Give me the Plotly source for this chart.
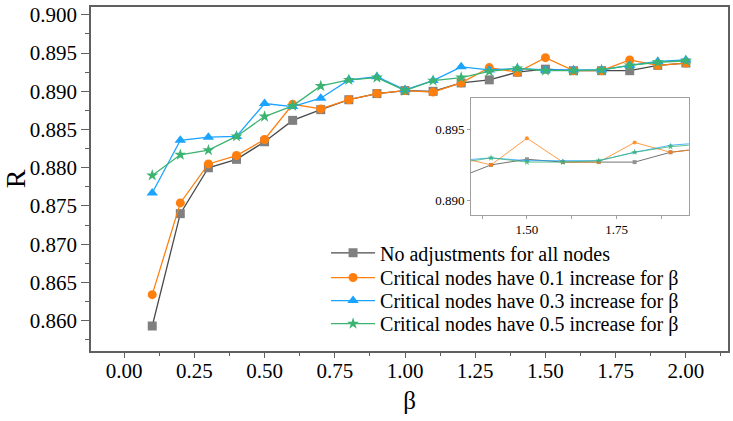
import plotly.graph_objects as go

beta = [0.1, 0.2, 0.3, 0.4, 0.5, 0.6, 0.7, 0.8, 0.9, 1.0,
        1.1, 1.2, 1.3, 1.4, 1.5, 1.6, 1.7, 1.8, 1.9, 2.0]
r_none = [0.8593, 0.8740, 0.8800, 0.8811, 0.8834, 0.8862, 0.8876, 0.8889, 0.8897, 0.8901,
          0.8900, 0.8911, 0.8915, 0.8925, 0.8929, 0.8927, 0.8927, 0.8927, 0.8934, 0.8937]
r_01 = [0.8634, 0.8754, 0.8805, 0.8816, 0.8837, 0.8883, 0.8877, 0.8889, 0.8897, 0.8901,
        0.8899, 0.8911, 0.8931, 0.8925, 0.8944, 0.8927, 0.8927, 0.8941, 0.8934, 0.8937]
r_03 = [0.8767, 0.8836, 0.8840, 0.8841, 0.8884, 0.8880, 0.8891, 0.8915, 0.8919, 0.8902,
        0.8914, 0.8932, 0.8928, 0.8930, 0.8928, 0.8928, 0.8928, 0.8934, 0.8939, 0.8941]
r_05 = [0.8790, 0.8817, 0.8823, 0.8841, 0.8867, 0.8881, 0.8907, 0.8915, 0.8918, 0.8901,
        0.8914, 0.8918, 0.8926, 0.8930, 0.8927, 0.8927, 0.8928, 0.8934, 0.8938, 0.8940]

names = ["No adjustments for all nodes",
         "Critical nodes have 0.1 increase for β",
         "Critical nodes have 0.3 increase for β",
         "Critical nodes have 0.5 increase for β"]
series = [r_none, r_01, r_03, r_05]
line_colors = ["#4a4a4a", "#FF7F0E", "#1AA3FF", "#3CB371"]
marker_colors = ["#808080", "#FF7F0E", "#1AA3FF", "#3CB371"]
symbols = ["square", "circle", "triangle-up", "star"]
sizes = [9, 9, 10, 9]
legend_ids = ["legend", "legend2", "legend3", "legend4"]

FONT = "'Liberation Serif', 'Times New Roman', serif"
fig = go.Figure()
for s, n, lc, mc, sym, sz, lg in zip(series, names, line_colors, marker_colors, symbols, sizes, legend_ids):
    fig.add_trace(go.Scatter(x=beta, y=s, name=n, mode="lines+markers", legend=lg,
                             line=dict(color=lc, width=1.3),
                             marker=dict(color=mc, symbol=sym, size=sz, line=dict(width=0)),
                             xaxis="x", yaxis="y"))
# inset
inset_sizes = [4, 4, 4, 5]
for s, lc, mc, sym, sz in zip(series, line_colors, marker_colors, symbols, inset_sizes):
    fig.add_trace(go.Scatter(x=beta, y=s, mode="lines+markers", showlegend=False,
                             line=dict(color=lc, width=0.9),
                             marker=dict(color=mc, symbol=sym, size=sz, line=dict(width=0)),
                             opacity=0.85,
                             xaxis="x2", yaxis="y2"))

axcol = "#606060"
PL, PT, PW, PH = 91, 3, 639, 348


def py(p):
    return (PT + PH - p) / PH


row_centers = [251.7, 276.7, 300.0, 323.3]
legends = {}
for lg, rc in zip(legend_ids, row_centers):
    legends[lg] = dict(x=0.369, y=py(rc), xanchor="left", yanchor="middle", bgcolor="rgba(0,0,0,0)",
                       font=dict(size=20, family=FONT), itemwidth=44)

fig.update_layout(
    width=733, height=421,
    margin=dict(l=PL, r=733 - PL - PW, t=PT, b=421 - PT - PH),
    paper_bgcolor="white", plot_bgcolor="white",
    font=dict(family=FONT, color="black"),
    xaxis=dict(domain=[0, 1], range=[-0.118, 2.15], tick0=0, dtick=0.25, tickformat=".2f",
               showline=True, mirror=True, linecolor=axcol, linewidth=1.5,
               ticks="outside", ticklen=5, tickcolor=axcol, tickwidth=1.2,
               minor=dict(dtick=0.125, ticks="outside", ticklen=3, tickcolor=axcol),
               ticklabelstandoff=-5,
               showgrid=False, zeroline=False, tickfont=dict(size=21, family=FONT),
               title=dict(text="β", font=dict(size=25, family=FONT), standoff=10)),
    yaxis=dict(domain=[0, 1], range=[0.85603, 0.90103], tick0=0.86, dtick=0.005, tickformat=".3f",
               showline=True, mirror=True, linecolor=axcol, linewidth=1.5,
               ticks="outside", ticklen=8, tickcolor=axcol, tickwidth=1.2,
               minor=dict(dtick=0.0025, ticks="outside", ticklen=4, tickcolor=axcol),
               showgrid=False, zeroline=False, tickfont=dict(size=21, family=FONT),
               title=dict(text="R", font=dict(size=28, family=FONT), standoff=6)),
    xaxis2=dict(domain=[0.5967, 0.9385], anchor="y2", range=[1.3444, 1.951], tick0=1.5, dtick=0.25,
                tickformat=".2f", showline=True, mirror=True, linecolor="#a0a0a0", linewidth=1,
                ticks="outside", ticklen=3, tickcolor="#a0a0a0",
                minor=dict(dtick=0.125, ticks="outside", ticklen=3, tickcolor="#a0a0a0"),
                showgrid=False, zeroline=False, tickfont=dict(size=13, family=FONT)),
    yaxis2=dict(domain=[0.3957, 0.7356], anchor="x2", range=[0.88894, 0.89727], tick0=0.89, dtick=0.005,
                tickformat=".3f", showline=True, mirror=True, linecolor="#a0a0a0", linewidth=1,
                ticks="outside", ticklen=3, tickcolor="#a0a0a0",
                showgrid=False, zeroline=False, tickfont=dict(size=13, family=FONT)),
    showlegend=True,
    **legends,
)
fig.write_html("out.html")
